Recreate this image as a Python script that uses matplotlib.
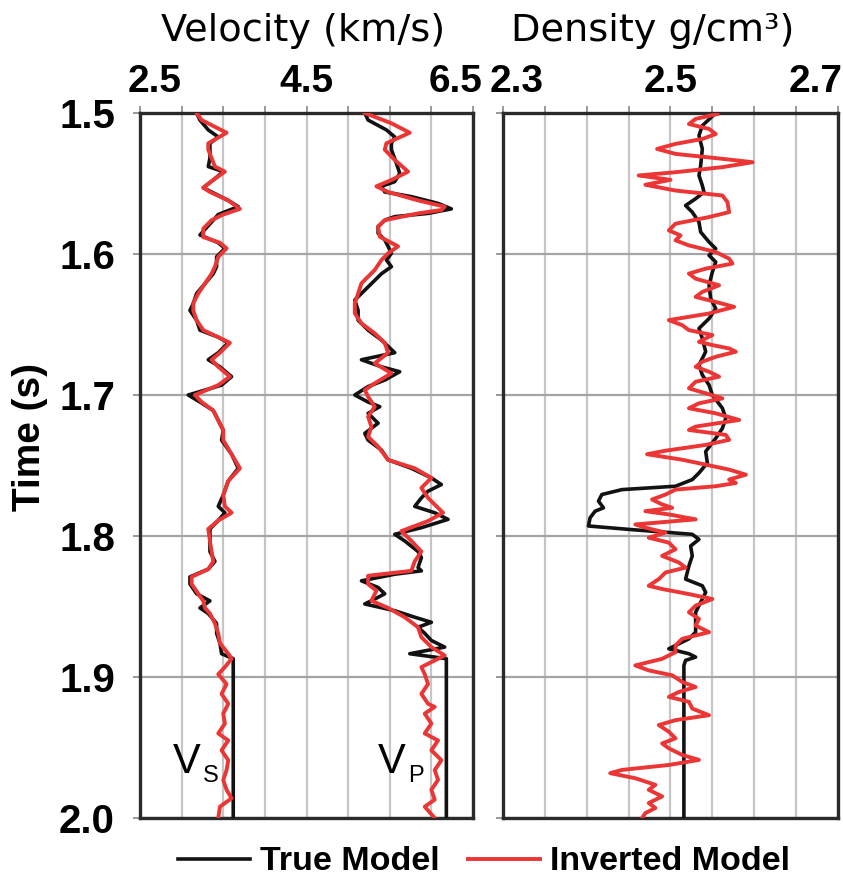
import matplotlib
matplotlib.use("Agg")
import matplotlib.pyplot as plt
import matplotlib.transforms as mtransforms

plt.rcParams['font.family'] = ['Liberation Sans', 'DejaVu Sans']

# ---------------- data ----------------
vs_true_t = [1.500, 1.505, 1.512, 1.517, 1.5215, 1.526, 1.532, 1.538, 1.5416, 1.5475, 1.553, 1.556, 1.562,
             1.5664, 1.572, 1.576, 1.5865, 1.592, 1.596, 1.602, 1.609, 1.614, 1.621, 1.628, 1.635, 1.640,
             1.647, 1.654, 1.659, 1.663, 1.670, 1.675, 1.680, 1.687, 1.693, 1.700, 1.705, 1.711, 1.718,
             1.725, 1.732, 1.742, 1.752, 1.761, 1.771, 1.779, 1.7835, 1.789, 1.795, 1.8035, 1.811, 1.818,
             1.8235, 1.829, 1.834, 1.841, 1.846, 1.851, 1.855, 1.862, 1.869, 1.876, 1.8835, 1.887, 2.000]
vs_true_v = [3.18, 3.22, 3.32, 3.44, 3.34, 3.34, 3.34, 3.32, 3.50, 3.38, 3.26, 3.36, 3.56,
             3.68, 3.44, 3.38, 3.22, 3.44, 3.52, 3.42, 3.42, 3.38, 3.28, 3.18, 3.14, 3.10,
             3.18, 3.22, 3.44, 3.56, 3.44, 3.32, 3.46, 3.60, 3.48, 3.08, 3.22, 3.38, 3.44,
             3.50, 3.48, 3.60, 3.68, 3.56, 3.50, 3.44, 3.52, 3.44, 3.34, 3.34, 3.34, 3.40,
             3.32, 3.10, 3.10, 3.18, 3.34, 3.22, 3.32, 3.42, 3.42, 3.46, 3.48, 3.62, 3.62]

vs_inv_t = [1.500, 1.505, 1.514, 1.5215, 1.526, 1.532, 1.538, 1.5416, 1.5475, 1.553, 1.556, 1.562, 1.568,
            1.572, 1.576, 1.582, 1.588, 1.592, 1.596, 1.602, 1.609, 1.614, 1.621, 1.628, 1.635, 1.640,
            1.647, 1.654, 1.659, 1.663, 1.670, 1.675, 1.680, 1.687, 1.693, 1.700, 1.705, 1.711, 1.718,
            1.725, 1.732, 1.742, 1.752, 1.761, 1.771, 1.779, 1.7835, 1.789, 1.795, 1.8035, 1.811, 1.818,
            1.8235, 1.829, 1.834, 1.841, 1.846, 1.851, 1.855, 1.862, 1.869, 1.876, 1.8835, 1.887, 1.893,
            1.898, 1.905, 1.912, 1.919, 1.926, 1.933, 1.940, 1.945, 1.952, 1.959, 1.966, 1.973, 1.980,
            1.986, 1.992, 2.000]
vs_inv_v = [3.18, 3.24, 3.54, 3.32, 3.32, 3.36, 3.40, 3.52, 3.38, 3.26, 3.34, 3.56, 3.70,
            3.50, 3.36, 3.26, 3.26, 3.46, 3.54, 3.44, 3.40, 3.36, 3.28, 3.20, 3.14, 3.14,
            3.18, 3.26, 3.44, 3.58, 3.46, 3.36, 3.44, 3.58, 3.44, 3.16, 3.24, 3.38, 3.44,
            3.50, 3.50, 3.60, 3.70, 3.56, 3.50, 3.52, 3.60, 3.44, 3.32, 3.34, 3.36, 3.38,
            3.32, 3.12, 3.12, 3.20, 3.26, 3.28, 3.34, 3.40, 3.44, 3.46, 3.56, 3.60, 3.52,
            3.44, 3.54, 3.48, 3.56, 3.50, 3.52, 3.44, 3.56, 3.48, 3.56, 3.54, 3.50, 3.54,
            3.60, 3.46, 3.44]

vp_true_t = [1.500, 1.505, 1.512, 1.517, 1.5215, 1.526, 1.5357, 1.5428, 1.5487, 1.552, 1.556, 1.5593,
             1.5641, 1.568, 1.5712, 1.5735, 1.576, 1.5806, 1.5853, 1.590, 1.5946, 1.5995, 1.6043, 1.609,
             1.614, 1.621, 1.628, 1.6326, 1.640, 1.647, 1.654, 1.661, 1.670, 1.675, 1.680, 1.6835,
             1.6894, 1.694, 1.700, 1.705, 1.7083, 1.713, 1.720, 1.7272, 1.732, 1.739, 1.746, 1.752,
             1.7588, 1.7635, 1.7682, 1.773, 1.779, 1.7835, 1.7882, 1.7941, 1.7988, 1.8035, 1.811, 1.8153,
             1.8224, 1.8247, 1.8271, 1.8318, 1.8365, 1.841, 1.8447, 1.8482, 1.853, 1.8576, 1.8612,
             1.8647, 1.869, 1.8741, 1.8788, 1.8835, 1.887, 2.000]
vp_true_v = [5.20, 5.24, 5.46, 5.56, 5.52, 5.52, 5.58, 5.62, 5.56, 5.40, 5.44, 5.76,
             6.08, 6.24, 5.96, 5.56, 5.44, 5.36, 5.36, 5.44, 5.48, 5.52, 5.46, 5.52,
             5.40, 5.28, 5.16, 5.08, 5.12, 5.12, 5.24, 5.40, 5.56, 5.16, 5.40, 5.62,
             5.44, 5.24, 5.08, 5.24, 5.38, 5.24, 5.36, 5.20, 5.24, 5.40, 5.48, 5.76,
             6.00, 6.12, 5.96, 5.88, 5.80, 6.04, 6.20, 5.88, 5.56, 5.68, 5.84, 5.88,
             5.84, 5.88, 5.56, 5.16, 5.36, 5.44, 5.32, 5.20, 5.56, 5.80, 6.00,
             5.84, 5.92, 6.00, 6.16, 5.74, 6.18, 6.18]

vp_inv_t = [1.500, 1.5073, 1.514, 1.5215, 1.526, 1.5333, 1.5416, 1.5475, 1.552, 1.556, 1.562, 1.5664,
            1.5688, 1.5712, 1.576, 1.5806, 1.5877, 1.5946, 1.5995, 1.6043, 1.6113, 1.6208, 1.628, 1.635,
            1.6421, 1.6492, 1.6563, 1.663, 1.670, 1.6775, 1.6846, 1.6917, 1.6965, 1.7012, 1.7083, 1.7154,
            1.7225, 1.7296, 1.7366, 1.746, 1.752, 1.7588, 1.7659, 1.773, 1.780, 1.7835, 1.7894, 1.7965,
            1.8035, 1.811, 1.818, 1.8247, 1.8282, 1.8341, 1.8388, 1.8459, 1.851, 1.8576, 1.8647, 1.8718,
            1.8788, 1.8847, 1.893, 1.898, 1.905, 1.912, 1.919, 1.9212, 1.926, 1.933, 1.940, 1.945,
            1.952, 1.959, 1.966, 1.973, 1.980, 1.987, 1.992, 2.000]
vp_inv_v = [5.20, 5.52, 5.74, 5.46, 5.44, 5.56, 5.72, 5.52, 5.34, 5.48, 5.84, 6.16,
            6.12, 5.84, 5.44, 5.36, 5.38, 5.60, 5.48, 5.40, 5.32, 5.16, 5.12, 5.08,
            5.08, 5.16, 5.32, 5.44, 5.48, 5.32, 5.52, 5.32, 5.20, 5.24, 5.32, 5.24,
            5.28, 5.24, 5.36, 5.48, 5.80, 6.00, 5.88, 5.96, 6.08, 6.14, 5.96, 5.64,
            5.76, 5.88, 5.80, 5.76, 5.24, 5.24, 5.34, 5.28, 5.48, 5.68, 5.84, 5.88,
            6.00, 6.16, 5.88, 5.92, 5.96, 5.88, 5.96, 6.04, 5.92, 6.00, 5.92, 6.08,
            6.00, 6.12, 6.04, 6.08, 6.00, 6.04, 5.92, 6.04]

rho_true_t = [1.500, 1.509, 1.516, 1.5255, 1.5373, 1.5443, 1.5514, 1.5561, 1.5608, 1.5656, 1.5703, 1.5774,
              1.5844, 1.5915, 1.5962, 1.6009, 1.6057, 1.6127, 1.6222, 1.6316, 1.6387, 1.6458, 1.6528,
              1.6599, 1.6693, 1.6788, 1.6858, 1.6929, 1.700, 1.7094, 1.7165, 1.7236, 1.7307, 1.7401,
              1.7482, 1.7553, 1.760, 1.7647, 1.7671, 1.7706, 1.7753, 1.780, 1.7824, 1.7871, 1.7929,
              1.7953, 1.7988, 1.8024, 1.8071, 1.8141, 1.8212, 1.8306, 1.8353, 1.840, 1.8447, 1.8494,
              1.8541, 1.8612, 1.8682, 1.8729, 1.8776, 1.880, 1.8835, 1.8859, 1.8882, 1.8918, 2.000]
rho_true_d = [2.554, 2.538, 2.534, 2.538, 2.536, 2.534, 2.538, 2.540, 2.530, 2.518, 2.526, 2.534,
              2.536, 2.546, 2.554, 2.546, 2.554, 2.550, 2.546, 2.548, 2.554, 2.546, 2.534,
              2.538, 2.542, 2.534, 2.538, 2.546, 2.550, 2.562, 2.566, 2.562, 2.554, 2.542,
              2.544, 2.534, 2.526, 2.506, 2.442, 2.418, 2.414, 2.420, 2.410, 2.404, 2.402,
              2.450, 2.526, 2.534, 2.524, 2.526, 2.522, 2.518, 2.538, 2.542, 2.538, 2.534,
              2.530, 2.530, 2.530, 2.522, 2.506, 2.498, 2.522, 2.530, 2.518, 2.516, 2.516]

rho_inv_t = [1.5007, 1.5042, 1.5078, 1.5113, 1.5149, 1.5184, 1.5219, 1.5255, 1.529, 1.5325, 1.5349, 1.5384,
             1.542, 1.5443, 1.5474, 1.5509, 1.555, 1.5585, 1.5632, 1.5703, 1.5738, 1.5785, 1.5833, 1.5868,
             1.5903, 1.5939, 1.5986, 1.6033, 1.6068, 1.6104, 1.6139, 1.6175, 1.6222, 1.6269, 1.6304,
             1.634, 1.6375, 1.6422, 1.6469, 1.6505, 1.654, 1.6575, 1.6623, 1.6646, 1.667, 1.6693, 1.6729,
             1.6764, 1.680, 1.6835, 1.687, 1.6906, 1.6953, 1.6988, 1.7024, 1.7059, 1.7094, 1.713, 1.7177,
             1.7224, 1.7248, 1.7283, 1.7318, 1.7354, 1.7395, 1.742, 1.7459, 1.7494, 1.7529, 1.7565, 1.760,
             1.7624, 1.7647, 1.7671, 1.7706, 1.7741, 1.7776, 1.780, 1.7824, 1.7847, 1.7882, 1.7918,
             1.7941, 1.7976, 1.8012, 1.8047, 1.8094, 1.8141, 1.8188, 1.8224, 1.8259, 1.8306, 1.8353,
             1.8376, 1.8412, 1.8447, 1.8494, 1.8541, 1.8588, 1.8635, 1.8682, 1.8729, 1.8776, 1.8824,
             1.8871, 1.8918, 1.8953, 1.8988, 1.9035, 1.9071, 1.9106, 1.9141, 1.9176, 1.9224, 1.9271,
             1.9306, 1.9341, 1.9388, 1.9435, 1.9471, 1.9506, 1.9553, 1.9588, 1.9624, 1.9659, 1.9682,
             1.9718, 1.9765, 1.980, 1.9847, 1.9894, 1.9929, 1.9965, 2.000]
rho_inv_d = [2.556, 2.530, 2.522, 2.546, 2.554, 2.538, 2.506, 2.484, 2.506, 2.562, 2.598, 2.562,
             2.506, 2.462, 2.500, 2.470, 2.506, 2.562, 2.568, 2.570, 2.546, 2.506, 2.498, 2.512,
             2.506, 2.522, 2.554, 2.570, 2.574, 2.542, 2.522, 2.530, 2.558, 2.538, 2.530,
             2.554, 2.576, 2.546, 2.498, 2.514, 2.522, 2.550, 2.534, 2.550, 2.570, 2.578, 2.554,
             2.538, 2.530, 2.546, 2.558, 2.530, 2.522, 2.542, 2.562, 2.534, 2.522, 2.554, 2.582,
             2.530, 2.522, 2.566, 2.570, 2.542, 2.494, 2.472, 2.514, 2.542, 2.570, 2.590, 2.570,
             2.578, 2.554, 2.506, 2.494, 2.478, 2.490, 2.502, 2.470, 2.498, 2.530, 2.458,
             2.470, 2.494, 2.474, 2.498, 2.506, 2.490, 2.510, 2.518, 2.494, 2.486, 2.474,
             2.490, 2.522, 2.550, 2.530, 2.522, 2.534, 2.530, 2.546, 2.514, 2.506, 2.506,
             2.490, 2.458, 2.474, 2.502, 2.514, 2.530, 2.510, 2.498, 2.522, 2.526, 2.546,
             2.506, 2.486, 2.498, 2.506, 2.490, 2.498, 2.514, 2.534, 2.498, 2.442, 2.428,
             2.458, 2.482, 2.474, 2.490, 2.474, 2.482, 2.470, 2.466]

vel_grid = [2.5, 3.0, 3.5, 4.0, 4.5, 5.0, 5.5, 6.0, 6.5]
vel_labels = ['2.5', '', '', '', '4.5', '', '', '', '6.5']
rho_grid = [2.30, 2.35, 2.40, 2.45, 2.50, 2.55, 2.60, 2.65, 2.70]
rho_labels = ['2.3', '', '', '', '2.5', '', '', '', '2.7']
time_ticks = [1.5, 1.6, 1.7, 1.8, 1.9, 2.0]
time_labels = ['1.5', '1.6', '1.7', '1.8', '1.9', '2.0']

BLACK = '#121212'
RED = '#ec3535'

fig = plt.figure(figsize=(8.43, 8.81), dpi=100)
ax1 = fig.add_axes([140 / 843, 1 - 818 / 881, 333 / 843, 705 / 881])
ax2 = fig.add_axes([503 / 843, 1 - 818 / 881, 335 / 843, 705 / 881])

XFONT = {'weight': 'bold', 'size': 28}


def style(ax, grid, labels, xlim, shift_l, shift_r):
    ax.set_xlim(*xlim)
    ax.set_ylim(2.0, 1.5)
    ax.xaxis.tick_top()
    ax.set_xticks(grid)
    ax.set_xticklabels(labels, fontdict=XFONT)
    ax.set_yticks(time_ticks)
    ax.grid(True, axis='x', color='#c6c6c6', linewidth=1.6, zorder=0)
    ax.grid(True, axis='y', color='#a4a4a4', linewidth=1.6, zorder=0)
    ax.set_axisbelow(True)
    ax.tick_params(axis='x', direction='out', length=5, width=1.2, color='#888888', pad=4)
    ax.tick_params(axis='y', direction='out', length=5, width=1.2, color='#888888',
                   labelsize=29, pad=13)
    for s in ax.spines.values():
        s.set_linewidth(2.4)
        s.set_color('#2a2a2a')
    # shift the end labels inward like the reference
    lbls = ax.get_xticklabels()
    lbls[0].set_transform(lbls[0].get_transform() +
                          mtransforms.ScaledTranslation(shift_l, 0, fig.dpi_scale_trans))
    lbls[-1].set_transform(lbls[-1].get_transform() +
                           mtransforms.ScaledTranslation(-shift_r, 0, fig.dpi_scale_trans))


style(ax1, vel_grid, vel_labels, (2.5, 6.5), 0.15, 0.17)
style(ax2, rho_grid, rho_labels, (2.3, 2.7), 0.135, 0.22)
ax1.set_yticklabels(time_labels, fontweight='bold')
ax2.set_yticklabels([])

lw_t, lw_i = 2.6, 2.8
ax1.plot(vs_true_v, vs_true_t, color=BLACK, lw=lw_t, solid_joinstyle='round', zorder=3)
ax1.plot(vs_inv_v, vs_inv_t, color=RED, lw=lw_i, solid_joinstyle='round', zorder=4)
ax1.plot(vp_true_v, vp_true_t, color=BLACK, lw=lw_t, solid_joinstyle='round', zorder=3)
ax1.plot(vp_inv_v, vp_inv_t, color=RED, lw=lw_i, solid_joinstyle='round', zorder=4)
l1, = ax2.plot(rho_true_d, rho_true_t, color=BLACK, lw=lw_t, solid_joinstyle='round', zorder=3)
l2, = ax2.plot(rho_inv_d, rho_inv_t, color=RED, lw=lw_i, solid_joinstyle='round', zorder=4)

# V_S and V_P annotations
ax1.text(2.90, 1.968, 'V', fontsize=30, color='black', va='baseline', ha='left')
ax1.text(3.26, 1.9745, 'S', fontsize=17, color='black', va='baseline', ha='left')
ax1.text(5.36, 1.968, 'V', fontsize=30, color='black', va='baseline', ha='left')
ax1.text(5.72, 1.9745, 'P', fontsize=17, color='black', va='baseline', ha='left')

TFONT = ['DejaVu Sans']
fig.text(303 / 843, 1 - 41 / 881, 'Velocity (km/s)', fontsize=27.5, family=TFONT,
         ha='center', va='baseline')
fig.text(653 / 843, 1 - 41 / 881, 'Density g/cm³)', fontsize=27.5, family=TFONT,
         ha='center', va='baseline')
fig.text(30 / 843, 1 - 437 / 881, 'Time (s)', fontsize=28, fontweight='bold', rotation=90,
         ha='center', va='center')

fig.legend([l1, l2], ['True Model', 'Inverted Model'], loc='center', ncol=2,
           bbox_to_anchor=(484 / 843, 1 - 862 / 881), frameon=False,
           prop={'size': 24.5, 'weight': 'bold'}, handlelength=2.1, handletextpad=0.3,
           columnspacing=0.85, borderpad=0.1)

fig.savefig('out.png', dpi=100, facecolor='white')
